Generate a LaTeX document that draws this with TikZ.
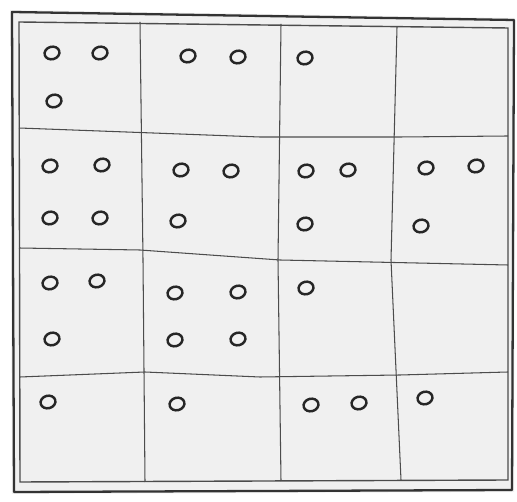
\documentclass[tikz,border=0pt]{standalone}
\usepackage{tikz}
\usetikzlibrary{shapes.geometric}

\begin{document}
\begin{tikzpicture}[
        x=0.02cm, y=-0.02cm,
        pencil/.style={draw=black!70, line width=0.6pt},
        frame/.style={draw=black!80, line width=1.3pt, line join=round},
        dot/.style={
            draw=black!85,
            ellipse,
            line width=1.4pt,
            inner sep=0pt,
            minimum width=0.3cm,
            minimum height=0.25cm,
            rotate=15
        }
    ]

    \useasboundingbox (0,0) rectangle (517,502);

    % paper
    \fill[black!6] (10,10) -- (515,18) -- (514,492) -- (12,494) -- cycle;

    % outer frame, drawn twice
    \draw[frame] (12,12) -- (514,20) -- (512,490) -- (14,492) -- cycle;
    \draw[pencil, line width=0.8pt] (19,22) -- (508,28) -- (508,480) -- (20,482) -- cycle;

    % grid
    \draw[pencil] (140,22) -- (143,260) -- (145,482);
    \draw[pencil] (281,24) -- (278,260) -- (281,481);
    \draw[pencil] (397,27) -- (391,260) -- (401,480);
    \draw[pencil] (19,128) -- (260,137) -- (400,137) -- (508,136);
    \draw[pencil] (19,248) -- (140,250) -- (280,260) -- (508,265);
    \draw[pencil] (20,377) -- (145,372) -- (260,377) -- (400,375) -- (508,372);

    % row 1
    \node[dot] (c11a) at (52,53) {};
    \node[dot] (c11b) at (100,53) {};
    \node[dot] (c11c) at (54,101) {};
    \node[dot] (c12a) at (188,56) {};
    \node[dot] (c12b) at (238,57) {};
    \node[dot] (c13a) at (305,58) {};

    % row 2
    \node[dot] (c21a) at (50,166) {};
    \node[dot] (c21b) at (102,165) {};
    \node[dot] (c21c) at (50,218) {};
    \node[dot] (c21d) at (100,218) {};
    \node[dot] (c22a) at (181,170) {};
    \node[dot] (c22b) at (231,171) {};
    \node[dot] (c22c) at (178,221) {};
    \node[dot] (c23a) at (306,171) {};
    \node[dot] (c23b) at (348,170) {};
    \node[dot] (c23c) at (305,224) {};
    \node[dot] (c24a) at (426,168) {};
    \node[dot] (c24b) at (476,166) {};
    \node[dot] (c24c) at (421,226) {};

    % row 3
    \node[dot] (c31a) at (50,283) {};
    \node[dot] (c31b) at (97,281) {};
    \node[dot] (c31c) at (52,339) {};
    \node[dot] (c32a) at (175,293) {};
    \node[dot] (c32b) at (238,292) {};
    \node[dot] (c32c) at (175,340) {};
    \node[dot] (c32d) at (238,339) {};
    \node[dot] (c33a) at (306,288) {};

    % row 4
    \node[dot] (c41a) at (48,402) {};
    \node[dot] (c42a) at (177,404) {};
    \node[dot] (c43a) at (311,405) {};
    \node[dot] (c43b) at (359,403) {};
    \node[dot] (c44a) at (425,398) {};

\end{tikzpicture}
\end{document}
